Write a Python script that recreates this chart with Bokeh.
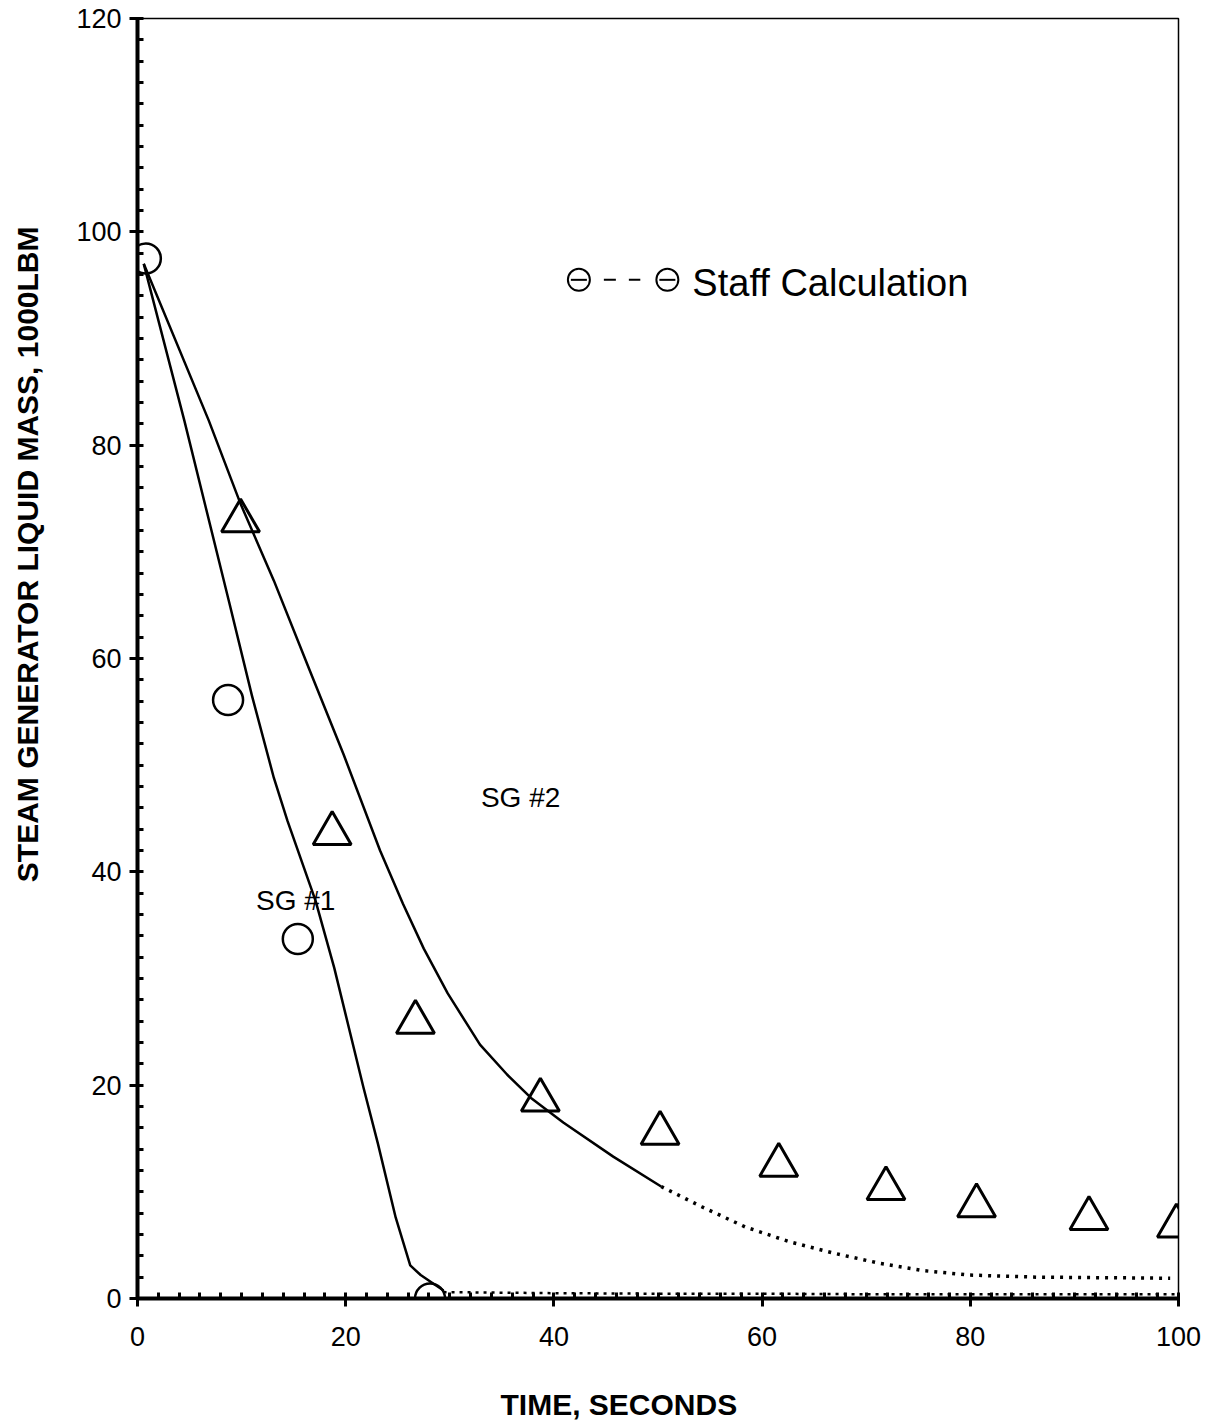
from bokeh.plotting import figure
from bokeh.models import Range1d, Label, SingleIntervalTicker, Title
from bokeh.embed import file_html
from bokeh.resources import INLINE

# ---- data ----
sg1_x = [0.6, 4.5, 8.8, 11.0, 13.1, 14.4, 17.1, 18.9, 21.7, 23.1, 24.8, 26.2, 27.2, 28.4, 29.4]
sg1_y = [97.0, 82.3, 65.3, 56.5, 48.8, 44.8, 37.3, 31.0, 19.8, 14.5, 7.6, 3.1, 2.2, 1.4, 0.75]
sg1_tail_x = [29.4, 40, 50, 60, 70, 80, 90, 100]
sg1_tail_y = [0.6, 0.5, 0.45, 0.45, 0.4, 0.4, 0.4, 0.4]

sg2_x = [0.6, 6.85, 9.9, 13.1, 16.5, 19.8, 23.3, 25.5, 27.5, 29.8, 32.9, 35.5, 37.8, 40.9, 45.7, 50.3]
sg2_y = [97.0, 82.3, 74.5, 67.3, 59.0, 51.0, 42.0, 37.0, 32.8, 28.6, 23.8, 21.0, 18.8, 16.5, 13.3, 10.5]
sg2_tail_x = [50.3, 54.2, 58.4, 62.7, 67.1, 71.3, 75.6, 79.9, 86.4, 93.0, 99.2]
sg2_tail_y = [10.5, 8.6, 6.7, 5.3, 4.2, 3.3, 2.6, 2.2, 2.0, 1.95, 1.9]

staff1_x = [0.8, 8.7, 15.4, 28.1]
staff1_y = [97.5, 56.1, 33.7, 0.0]

staff2_x = [9.9, 18.7, 26.7, 38.7, 50.2, 61.6, 71.9, 80.6, 91.4, 99.8]
staff2_y = [72.9, 43.6, 25.9, 18.6, 15.5, 12.5, 10.3, 8.7, 7.5, 6.8]

x_ticks = [0, 20, 40, 60, 80, 100]
y_ticks = [0, 20, 40, 60, 80, 100, 120]

FONT = "Liberation Sans"

p = figure(width=1208, height=1424, output_backend="svg", toolbar_location=None,
           x_range=Range1d(0, 100), y_range=Range1d(0, 120),
           min_border_left=137, min_border_right=30, min_border_top=18, min_border_bottom=126)
p.grid.visible = False
p.outline_line_color = "black"
p.outline_line_width = 1.5
p.background_fill_color = "white"
p.border_fill_color = "white"

for ax in (p.xaxis[0], p.yaxis[0]):
    ax.ticker = SingleIntervalTicker(interval=20, num_minor_ticks=10)
    ax.axis_line_width = 4
    ax.axis_line_color = "black"
    ax.major_tick_line_width = 3
    ax.minor_tick_line_width = 3
    ax.major_tick_out = 8
    ax.major_tick_in = 3
    ax.minor_tick_in = 6
    ax.minor_tick_out = 0
    ax.major_label_text_font = FONT
    ax.major_label_text_font_size = "27px"
    ax.major_label_text_color = "black"
    # blank spacer label: pushes the real titles (added as Titles) outward
    ax.axis_label = " "
    ax.axis_label_text_font_size = "10px"
p.xaxis.major_label_standoff = 20
p.yaxis.major_label_standoff = 8
p.xaxis.axis_label_standoff = 23
p.yaxis.axis_label_standoff = 16

# model curves
p.line(sg1_x, sg1_y, line_color="black", line_width=2.5, line_join="round")
p.line(sg1_tail_x, sg1_tail_y, line_color="black", line_width=2.5, line_dash="3 5")
p.line(sg2_x, sg2_y, line_color="black", line_width=2.5, line_join="round")
p.line(sg2_tail_x, sg2_tail_y, line_color="black", line_width=3.5, line_dash="3 6")

# staff calculation markers
p.scatter(staff1_x, staff1_y, marker="circle", size=30, fill_color=None,
          line_color="black", line_width=2.5)
p.scatter(staff2_x, staff2_y, marker="triangle", size=38, fill_color=None,
          line_color="black", line_width=3)

# legend drawn by hand
LEG_Y = 95.5
p.scatter([42.4, 50.9], [LEG_Y, LEG_Y], marker="circle", size=22, fill_color=None,
          line_color="black", line_width=2)
p.scatter([42.4, 50.9], [LEG_Y, LEG_Y], marker="dash", size=16,
          line_color="black", line_width=2)
p.line([44.8, 48.3], [LEG_Y, LEG_Y], line_color="black", line_width=2, line_dash="12 13")
p.add_layout(Label(x=53.3, y=LEG_Y - 0.3, text="Staff Calculation", text_font=FONT,
                   text_font_size="38px", text_baseline="middle", text_align="left",
                   text_color="black"))

# curve labels
p.add_layout(Label(x=36.8, y=47.0, text="SG #2", text_font=FONT, text_font_size="28px",
                   text_align="center", text_baseline="middle", text_color="black"))
p.add_layout(Label(x=15.2, y=37.3, text="SG #1", text_font=FONT, text_font_size="28px",
                   text_align="center", text_baseline="middle", text_color="black"))

# axis titles
p.add_layout(Title(text="TIME, SECONDS", align="left", offset=363, standoff=0,
                   text_font=FONT, text_font_size="30px", text_font_style="bold",
                   text_color="black"), "below")
p.add_layout(Title(text="STEAM GENERATOR LIQUID MASS, 1000LBM", align="right", offset=208,
                   standoff=0, text_font=FONT, text_font_size="30px",
                   text_font_style="bold", text_color="black"), "left")

open("out.html", "w").write(file_html(p, INLINE))
